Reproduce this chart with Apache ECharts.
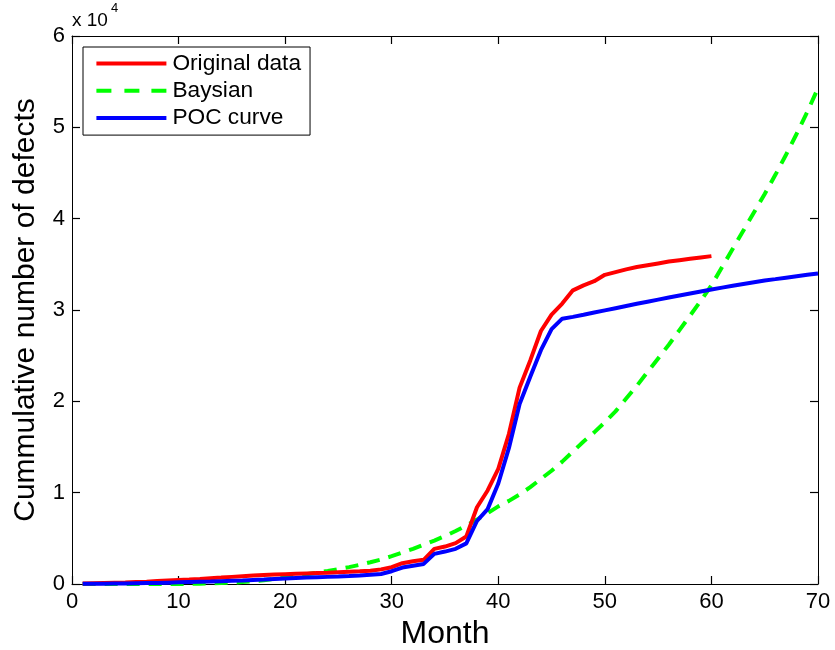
<!DOCTYPE html>
<html>
<head>
<meta charset="utf-8">
<script src="https://cdn.jsdelivr.net/npm/echarts@6/dist/echarts.min.js"></script>
<style>
  html, body { margin: 0; padding: 0; background: #fff; }
  #chart { width: 835px; height: 650px; }
</style>
</head>
<body>
<div id="chart"></div>
<script>
// Cumulative defects per month: recorded data, Bayesian estimate and POC fit
const originalMonths = [1,2,3,4,5,6,7,8,9,10,11,12,13,14,15,16,17,18,19,20,21,22,23,24,25,26,27,28,29,30,
  31,32,33,34,35,36,37,38,39,40,41,42,43,44,45,46,47,48,49,50,51,52,53,54,55,56,57,58,59,60];
const originalData = [50,80,110,140,170,210,250,320,390,450,500,560,630,700,780,860,920,980,1030,1080,
  1120,1160,1200,1240,1290,1340,1390,1450,1600,1840,2280,2500,2650,3850,4100,4470,5200,8400,10240,12600,
  16450,21500,24480,27700,29500,30700,32150,32700,33150,33850,34150,34450,34700,34900,35100,35300,35450,35600,35750,35900];

const modelMonths = [1,2,3,4,5,6,7,8,9,10,11,12,13,14,15,16,17,18,19,20,21,22,23,24,25,26,27,28,29,30,
  31,32,33,34,35,36,37,38,39,40,41,42,43,44,45,46,47,48,49,50,51,52,53,54,55,56,57,58,59,60,
  61,62,63,64,65,66,67,68,69,70];
const bayesData = [0,0,0,0,0,0,0,0,0,0,10,30,60,100,150,210,300,420,560,700,880,1070,1250,1430,1630,1850,2100,2380,2680,3050,
  3450,3850,4300,4750,5250,5800,6400,7050,7750,8500,9100,9800,10600,11500,12400,13400,14500,15600,16600,17700,
  18900,20300,21700,23200,24700,26200,27800,29400,31000,32700,34700,36700,38700,40700,42700,44800,47000,49300,51700,54300];
const pocData = [20,30,40,50,60,80,100,120,150,180,210,240,270,310,350,390,440,490,550,610,660,700,740,780,820,870,930,1000,1100,1400,
  1800,2000,2200,3300,3550,3850,4450,6900,8200,11000,14900,19700,22700,25600,27900,29050,29250,29480,29720,29960,
  30200,30440,30680,30910,31140,31370,31590,31810,32030,32240,32450,32650,32850,33040,33230,33380,33540,33700,33860,34000];

const xTicks = { min: 0, max: 70, interval: 10 };
const yTicks = { min: 0, max: 60000, interval: 10000 };

const pairs = (xs, ys) => xs.map((x, i) => [x, ys[i]]);

const FONT = 'Liberation Sans, Arial, Helvetica, sans-serif';
const chart = echarts.init(document.getElementById('chart'), null, { renderer: 'canvas' });

// MATLAB-style box: inward ticks on all four sides
const tick = () => ({ show: true, inside: true, length: 8, lineStyle: { color: '#000', width: 1.2 } });
const line = () => ({ show: true, onZero: false, lineStyle: { color: '#000', width: 1 } });

// legend glyphs: solid bar and a dashed bar
const SOLID = 'path://M0,0H70V4H0Z';
const DASHED = 'path://M0,0H15V4H0Z M28,0H43V4H28Z M55,0H70V4H55Z';

chart.setOption({
  animation: false,
  backgroundColor: '#fff',
  title: {
    left: 72, top: 2, padding: 0,
    text: '{a|x 10}{b|4}',
    textStyle: {
      rich: {
        a: { fontSize: 19, fontWeight: 'normal', fontFamily: 'Liberation Sans', color: '#000', lineHeight: 28, verticalAlign: 'bottom' },
        b: { fontSize: 13, fontWeight: 'normal', fontFamily: 'Liberation Sans', color: '#000', lineHeight: 28, verticalAlign: 'top', padding: [0, 0, 0, 3] }
      }
    }
  },
  grid: { left: 72, right: 17, top: 36, bottom: 66, show: false, outerBoundsMode: 'none', containLabel: false },
  legend: {
    orient: 'vertical',
    left: 83, top: 47,
    itemWidth: 70, itemHeight: 4, itemGap: 4.3,
    padding: [5, 9, 5.5, 13.4],
    borderColor: '#000', borderWidth: 1,
    backgroundColor: '#fff',
    textStyle: { fontFamily: FONT, fontSize: 22.7, lineHeight: 22, color: '#000', padding: [0, 0, 0, 1] },
    data: [
      { name: 'Original data', icon: SOLID },
      { name: 'Baysian', icon: DASHED },
      { name: 'POC curve', icon: SOLID }
    ]
  },
  xAxis: [
    {
      type: 'value', min: xTicks.min, max: xTicks.max, interval: xTicks.interval,
      name: 'Month', nameLocation: 'middle', nameGap: 30,
      nameTextStyle: { fontFamily: FONT, fontSize: 32, color: '#000' },
      axisLine: line(), axisTick: tick(),
      axisLabel: { fontFamily: FONT, fontSize: 22, color: '#000', margin: 7 },
      splitLine: { show: false }
    },
    {
      type: 'value', position: 'top', min: xTicks.min, max: xTicks.max, interval: xTicks.interval,
      axisLine: line(), axisTick: tick(), axisLabel: { show: false }, splitLine: { show: false }
    }
  ],
  yAxis: [
    {
      type: 'value', min: yTicks.min, max: yTicks.max, interval: yTicks.interval,
      name: 'Cummulative number of defects', nameLocation: 'middle', nameGap: 31,
      nameTextStyle: { fontFamily: FONT, fontSize: 30, color: '#000' },
      axisLine: line(), axisTick: tick(),
      axisLabel: { fontFamily: FONT, fontSize: 22, color: '#000', margin: 7, formatter: v => String(v / 10000) },
      splitLine: { show: false }
    },
    {
      type: 'value', position: 'right', min: yTicks.min, max: yTicks.max, interval: yTicks.interval,
      axisLine: line(), axisTick: tick(), axisLabel: { show: false }, splitLine: { show: false }
    }
  ],
  series: [
    {
      name: 'Original data', type: 'line', showSymbol: false, symbol: 'none',
      data: pairs(originalMonths, originalData),
      lineStyle: { color: '#ff0000', width: 4 }, itemStyle: { color: '#ff0000' }, z: 3
    },
    {
      name: 'Baysian', type: 'line', showSymbol: false, symbol: 'none',
      data: pairs(modelMonths, bayesData),
      lineStyle: { color: '#00ff00', width: 4, type: [13, 9] }, itemStyle: { color: '#00ff00' }, z: 2
    },
    {
      name: 'POC curve', type: 'line', showSymbol: false, symbol: 'none',
      data: pairs(modelMonths, pocData),
      lineStyle: { color: '#0000ff', width: 4 }, itemStyle: { color: '#0000ff' }, z: 4
    }
  ]
});
</script>
</body>
</html>
